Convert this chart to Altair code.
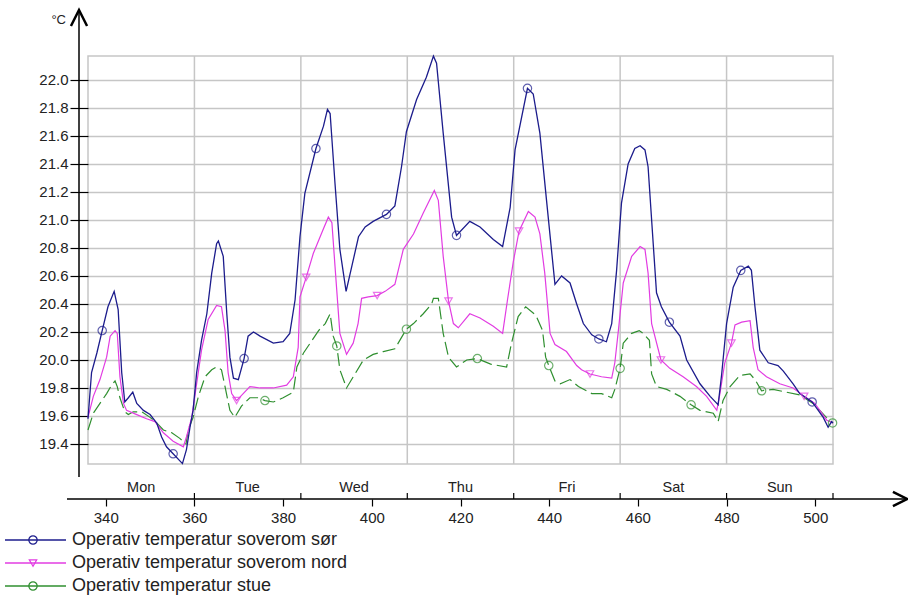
import altair as alt
import pandas as pd

# ---------------- data (hour of year, °C) ----------------
sor_h = [336.0, 336.8, 338.0, 339.2, 340.5, 341.9, 342.8, 343.6, 344.3, 345.1, 346.1, 347.0, 348.5, 350.0,
         351.5, 352.6, 353.7, 355.2, 357.3, 358.2, 359.0, 359.7, 360.5, 361.6, 362.8, 363.9, 365.0, 365.4,
         366.5, 367.3, 368.0, 368.8, 369.9, 371.2, 372.1, 373.3, 374.8, 377.8, 380.0, 381.5, 382.7, 383.8,
         384.9, 387.4, 389.1, 390.0, 390.6, 391.7, 392.8, 394.2, 395.5, 397.0, 398.5, 400.3, 403.3, 405.2,
         406.7, 407.8, 410.1, 412.3, 413.9, 414.6, 416.1, 418.0, 419.1, 422.1, 424.4, 427.4, 429.5, 431.2,
         432.3, 435.1, 436.4, 437.9, 439.4, 441.3, 442.8, 444.7, 446.2, 447.7, 449.6, 451.2, 452.9, 454.1,
         455.2, 456.3, 457.8, 459.3, 460.5, 461.6, 462.3, 463.1, 464.2, 465.3, 467.1, 469.5, 471.0, 474.0,
         476.3, 477.8, 478.1, 478.9, 480.0, 481.5, 483.2, 484.9, 485.6, 486.4, 487.5, 489.4, 491.6, 492.8,
         495.0, 496.5, 499.3, 501.8, 502.9, 503.7, 504.0]
sor_t = [19.58, 19.91, 20.05, 20.21, 20.38, 20.49, 20.36, 19.91, 19.70, 19.73, 19.77, 19.69, 19.64, 19.61,
         19.55, 19.45, 19.38, 19.33, 19.26, 19.36, 19.52, 19.64, 19.91, 20.14, 20.33, 20.62, 20.83, 20.85,
         20.74, 20.33, 20.02, 19.87, 19.86, 20.01, 20.17, 20.20, 20.17, 20.12, 20.13, 20.19, 20.43, 20.88,
         21.19, 21.51, 21.67, 21.79, 21.76, 21.26, 20.79, 20.49, 20.67, 20.88, 20.95, 20.99, 21.04, 21.10,
         21.38, 21.63, 21.86, 22.02, 22.17, 22.12, 21.62, 21.02, 20.89, 20.99, 20.95, 20.86, 20.81, 21.09,
         21.50, 21.94, 21.90, 21.62, 21.14, 20.54, 20.60, 20.55, 20.40, 20.26, 20.18, 20.15, 20.13, 20.26,
         20.64, 21.12, 21.40, 21.51, 21.53, 21.50, 21.38, 21.00, 20.48, 20.38, 20.27, 20.17, 20.00, 19.83,
         19.74, 19.69, 19.68, 19.90, 20.26, 20.52, 20.64, 20.67, 20.64, 20.38, 20.07, 19.98, 19.96, 19.92,
         19.83, 19.76, 19.70, 19.59, 19.52, 19.56, 19.55]

nord_h = [336.0, 337.2, 338.7, 340.2, 341.0, 342.1, 342.6, 343.2, 344.0, 344.7, 347.0, 349.2, 351.1, 353.0,
          355.2, 357.5, 358.2, 359.4, 360.5, 361.6, 363.1, 365.0, 366.1, 366.9, 367.6, 368.4, 369.5, 371.0,
          372.5, 374.8, 377.8, 380.8, 382.3, 383.4, 383.8, 385.2, 386.8, 389.0, 390.2, 391.0, 391.7, 392.8,
          394.3, 395.8, 396.9, 397.7, 399.2, 401.2, 403.0, 405.2, 407.1, 409.4, 411.6, 414.1, 415.0, 416.1,
          417.3, 418.4, 419.5, 422.1, 424.4, 427.4, 429.5, 430.6, 431.9, 433.2, 435.3, 436.8, 437.9, 439.0,
          440.2, 441.3, 443.9, 446.2, 447.3, 449.2, 451.8, 454.1, 454.8, 455.6, 456.7, 458.6, 460.5, 461.6,
          462.3, 463.1, 465.2, 467.2, 470.2, 473.2, 475.5, 477.8, 478.5, 479.6, 481.1, 481.9, 483.4, 485.3,
          486.0, 487.1, 489.0, 492.0, 495.0, 497.5, 499.9, 502.6, 504.0]
nord_t = [19.59, 19.74, 19.86, 20.02, 20.17, 20.21, 20.19, 19.88, 19.69, 19.64, 19.61, 19.58, 19.56, 19.48,
          19.42, 19.38, 19.45, 19.59, 19.83, 20.07, 20.29, 20.39, 20.38, 20.21, 19.91, 19.76, 19.71, 19.76,
          19.81, 19.80, 19.80, 19.82, 19.88, 20.09, 20.45, 20.59, 20.76, 20.93, 21.02, 20.98, 20.67, 20.19,
          20.04, 20.12, 20.26, 20.44, 20.45, 20.46, 20.49, 20.54, 20.79, 20.90, 21.05, 21.21, 21.14, 20.74,
          20.42, 20.26, 20.23, 20.33, 20.30, 20.24, 20.19, 20.43, 20.70, 20.92, 21.06, 21.02, 20.90, 20.62,
          20.19, 20.11, 20.06, 19.96, 19.93, 19.90, 19.88, 19.87, 19.98, 20.21, 20.55, 20.74, 20.81, 20.79,
          20.62, 20.26, 20.00, 19.94, 19.88, 19.81, 19.74, 19.64, 19.76, 19.98, 20.12, 20.25, 20.27, 20.28,
          20.09, 19.93, 19.88, 19.83, 19.80, 19.74, 19.69, 19.57, 19.55]

stue_h = [336.0, 337.2, 338.7, 340.2, 341.3, 342.1, 342.6, 343.2, 344.3, 345.1, 346.2, 348.1, 350.0, 351.5,
          353.0, 354.9, 356.7, 358.1, 358.6, 359.7, 360.9, 362.4, 363.9, 365.0, 366.1, 366.9, 368.0, 369.1,
          370.6, 372.5, 374.4, 375.9, 377.8, 380.0, 382.3, 383.1, 384.6, 386.1, 388.0, 389.5, 390.6, 391.3,
          392.1, 392.8, 394.3, 396.2, 398.1, 400.3, 402.6, 405.2, 407.8, 409.4, 411.6, 413.5, 413.9, 415.0,
          416.1, 417.3, 419.1, 421.4, 423.8, 426.8, 430.4, 431.5, 433.0, 434.7, 437.0, 438.5, 439.2, 439.9,
          441.3, 442.5, 444.7, 446.6, 449.6, 451.8, 454.1, 454.8, 456.0, 456.7, 458.6, 460.3, 461.2, 462.6,
          463.1, 464.2, 466.5, 469.5, 472.0, 474.0, 477.0, 478.1, 479.2, 480.8, 483.0, 485.3, 486.4, 487.9,
          490.5, 493.5, 496.5, 499.5, 502.5, 503.9]
stue_t = [19.50, 19.62, 19.69, 19.76, 19.82, 19.85, 19.81, 19.73, 19.63, 19.61, 19.63, 19.63, 19.59, 19.55,
          19.50, 19.48, 19.44, 19.40, 19.50, 19.59, 19.74, 19.88, 19.93, 19.95, 19.93, 19.81, 19.64, 19.59,
          19.67, 19.73, 19.73, 19.71, 19.70, 19.73, 19.77, 19.95, 20.05, 20.12, 20.21, 20.26, 20.33, 20.17,
          20.10, 19.93, 19.80, 19.90, 20.00, 20.04, 20.06, 20.08, 20.22, 20.26, 20.33, 20.40, 20.44, 20.44,
          20.19, 20.02, 19.95, 20.00, 20.01, 19.97, 19.95, 20.12, 20.31, 20.38, 20.32, 20.21, 20.02, 19.96,
          19.85, 19.83, 19.86, 19.81, 19.76, 19.76, 19.73, 19.79, 19.94, 20.12, 20.19, 20.21, 20.19, 20.14,
          19.90, 19.81, 19.79, 19.74, 19.68, 19.64, 19.62, 19.56, 19.71, 19.81, 19.89, 19.90, 19.86, 19.78,
          19.79, 19.77, 19.75, 19.69, 19.59, 19.55]

# marker positions
sor_mh = [339.2, 355.2, 371.2, 387.4, 403.3, 419.1, 435.1, 451.2, 467.1, 483.2, 499.3]
sor_mt = [20.21, 19.33, 20.01, 21.51, 21.04, 20.89, 21.94, 20.15, 20.27, 20.64, 19.70]
nord_mh = [369.5, 385.2, 401.2, 417.3, 433.2, 449.2, 465.2, 481.1, 497.5]
nord_mt = [19.71, 20.59, 20.46, 20.42, 20.92, 19.90, 20.00, 20.12, 19.74]
stue_mh = [375.9, 392.1, 407.8, 423.8, 439.9, 456.0, 472.0, 487.9, 503.9]
stue_mt = [19.71, 20.10, 20.22, 20.01, 19.96, 19.94, 19.68, 19.78, 19.55]

series_names = ["Operativ temperatur soverom sør", "Operativ temperatur soverom nord",
                "Operativ temperatur stue"]
day_names = ["Mon", "Tue", "Wed", "Thu", "Fri", "Sat", "Sun"]
day_centers = [348, 372, 396, 420, 444, 468, 492]
day_bounds = [360, 384, 408, 432, 456, 480]
day_ticks = [360, 384, 408, 432, 456, 480, 504]
x_tick_values = [340, 360, 380, 400, 420, 440, 460, 480, 500]
y_tick_values = [19.4, 19.6, 19.8, 20.0, 20.2, 20.4, 20.6, 20.8, 21.0, 21.2, 21.4, 21.6, 21.8, 22.0]

# ---------------- styling ----------------
FONT = "Liberation Sans"
W, H = 745, 408
COL = ["#1c1c8c", "#e23ce2", "#2f8f2f"]
GRID = "#c6c6c6"
TXT = "#222222"

xs = alt.Scale(domain=[336, 504], nice=False, zero=False)
ys = alt.Scale(domain=[19.257, 22.171], nice=False, zero=False)

x_axis = alt.Axis(values=x_tick_values, offset=35, domain=False, grid=False, tickSize=7,
                  tickColor="black", tickWidth=1.2, labelFontSize=15, labelFont=FONT,
                  labelColor=TXT, labelPadding=4, title=None, labelFlush=False)
y_axis = alt.Axis(values=y_tick_values, format=".1f", domain=False, grid=True, gridColor=GRID,
                  gridWidth=1.5, tickSize=18, tickColor="black", tickWidth=1.2, labelFontSize=15,
                  labelFont=FONT, labelColor=TXT, labelPadding=2, title=None)


def X(field):
    return alt.X(field, scale=xs, axis=x_axis)


def Y(field):
    return alt.Y(field, scale=ys, axis=y_axis)


layers = []

# vertical day-boundary grid lines
layers.append(
    alt.Chart(pd.DataFrame({"h": day_bounds})).mark_rule(color=GRID, strokeWidth=1.5).encode(
        x=X("h:Q"), y=alt.value(0), y2=alt.value(H))
)

dfs = [pd.DataFrame({"h": sor_h, "t": sor_t}),
       pd.DataFrame({"h": nord_h, "t": nord_t}),
       pd.DataFrame({"h": stue_h, "t": stue_t})]
mdfs = [pd.DataFrame({"h": sor_mh, "t": sor_mt}),
        pd.DataFrame({"h": nord_mh, "t": nord_mt}),
        pd.DataFrame({"h": stue_mh, "t": stue_mt})]

for i in [2, 1, 0]:
    kw = dict(color=COL[i], strokeWidth=1.3 if i == 0 else 1.2)
    if i == 2:
        kw["strokeDash"] = [13, 5]
    layers.append(alt.Chart(dfs[i]).mark_line(**kw).encode(x=X("h:Q"), y=Y("t:Q")))

shapes = ["circle", "triangle-down", "circle"]
sizes = [70, 55, 70]
for i in [2, 1, 0]:
    layers.append(
        alt.Chart(mdfs[i]).mark_point(shape=shapes[i], filled=False, size=sizes[i], color=COL[i],
                                      strokeWidth=1.2).encode(x=X("h:Q"), y=Y("t:Q"))
    )

# day labels between plot and x-axis
layers.append(
    alt.Chart(pd.DataFrame({"h": day_centers, "d": day_names})).mark_text(
        font=FONT, fontSize=14.5, color=TXT, baseline="middle", align="center").encode(
        x=X("h:Q"), y=alt.value(H + 24), text="d:N")
)
# day ticks above x axis line
layers.append(
    alt.Chart(pd.DataFrame({"h": day_ticks})).mark_rule(color="black", strokeWidth=1.2).encode(
        x=X("h:Q"), y=alt.value(H + 29), y2=alt.value(H + 35))
)
# x axis line with arrow
layers.append(alt.Chart(pd.DataFrame({"a": [0]})).mark_rule(color="black", strokeWidth=1.5).encode(
    x=alt.value(-21), x2=alt.value(818), y=alt.value(H + 35)))
layers.append(alt.Chart(pd.DataFrame({"a": [0]})).mark_point(
    shape="M-1,-1L1,0L-1,1", filled=False, size=200, color="black", strokeWidth=2.5, opacity=1).encode(
    x=alt.value(812), y=alt.value(H + 35)))
# y axis line with arrow
layers.append(alt.Chart(pd.DataFrame({"a": [0]})).mark_rule(color="black", strokeWidth=1.5).encode(
    x=alt.value(-9), y=alt.value(-47), y2=alt.value(421)))
layers.append(alt.Chart(pd.DataFrame({"a": [0]})).mark_point(
    shape="M-1,1L0,-1L1,1", filled=False, size=260, color="black", strokeWidth=2.5, opacity=1).encode(
    x=alt.value(-9), y=alt.value(-38)))
layers.append(alt.Chart(pd.DataFrame({"u": ["°C"]})).mark_text(
    font=FONT, fontSize=13, color=TXT, align="right", baseline="middle").encode(
    x=alt.value(-22), y=alt.value(-36), text="u:N"))

# legend
leg_y = [484, 507, 530]
leg_shapes = ["circle", "triangle-down", "circle"]
for i in range(3):
    one = pd.DataFrame({"name": [series_names[i]]})
    layers.append(alt.Chart(one).mark_rule(color=COL[i], strokeWidth=1.3).encode(
        x=alt.value(-83), x2=alt.value(-22), y=alt.value(leg_y[i])))
    layers.append(alt.Chart(one).mark_point(shape=leg_shapes[i], filled=False, size=sizes[i],
                                            color=COL[i], strokeWidth=1.2, opacity=1).encode(
        x=alt.value(-55), y=alt.value(leg_y[i])))
    layers.append(alt.Chart(one).mark_text(font=FONT, fontSize=18, color=TXT, align="left",
                                           baseline="middle").encode(
        x=alt.value(-16), y=alt.value(leg_y[i]), text="name:N"))

chart = alt.layer(*layers).properties(
    width=W, height=H,
    padding={"left": 88, "top": 56, "right": 75, "bottom": 137},
    autosize=alt.AutoSizeParams(type="none"),
    background="white",
).configure_view(stroke=GRID, strokeWidth=1.5)

chart.save("out.html", embed_options={"renderer": "svg", "actions": False})
